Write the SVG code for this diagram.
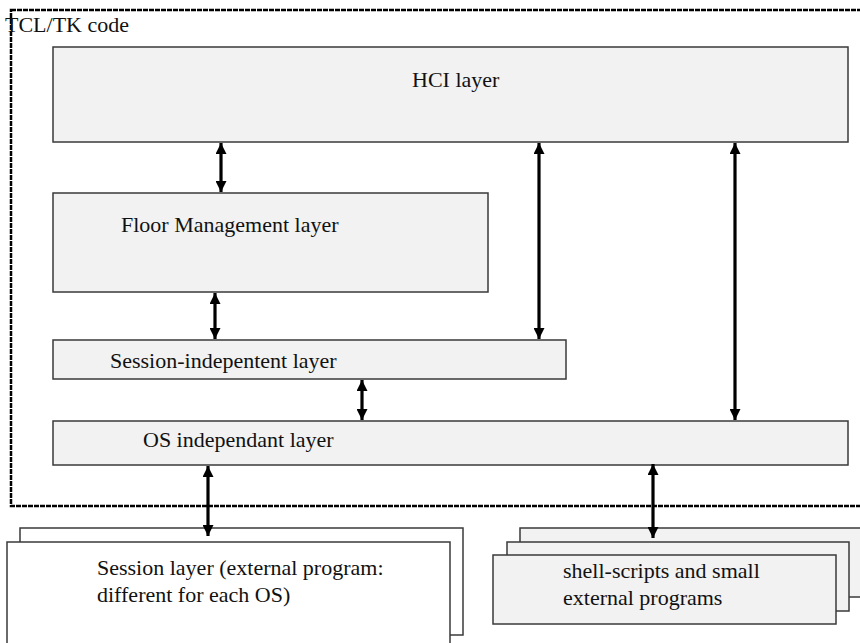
<svg xmlns="http://www.w3.org/2000/svg" width="860" height="643" viewBox="0 0 860 643">
  <style>
    .lbl { font-family: "Liberation Serif", "Times New Roman", serif; font-size: 22px; fill: #111; }
    .layer { fill: #f2f2f2; stroke: #3a3a3a; stroke-width: 1.5; }
    .ext { fill: #ffffff; stroke: #3a3a3a; stroke-width: 1.5; }
    .frame { fill: none; stroke: #000; stroke-width: 2.5; stroke-dasharray: 5 1; }
    .link { stroke: #000; stroke-width: 3.2; fill: none; marker-start: url(#tip); marker-end: url(#tip); }
  </style>
  <defs>
    <marker id="tip" viewBox="0 0 12 12" refX="12" refY="6" markerWidth="11" markerHeight="11" markerUnits="userSpaceOnUse" orient="auto-start-reverse">
      <path d="M0,0 L12,6 L0,12 z" fill="#000"/>
    </marker>
  </defs>

  <rect width="860" height="643" fill="#ffffff"/>

  <!-- TCL/TK code frame -->
  <g id="tcltk-frame">
    <rect class="frame" x="11" y="10" width="855" height="496"/>
    <text class="lbl" x="5" y="32">TCL/TK code</text>
  </g>

  <g id="hci-layer">
    <rect class="layer" x="53" y="47" width="795" height="95"/>
    <text class="lbl" x="412" y="87">HCI layer</text>
  </g>

  <g id="floor-management-layer">
    <rect class="layer" x="53" y="193" width="435" height="99"/>
    <text class="lbl" x="121" y="232">Floor Management layer</text>
  </g>

  <g id="session-independent-layer">
    <rect class="layer" x="53" y="340" width="513" height="39"/>
    <text class="lbl" x="110" y="368">Session-indepentent layer</text>
  </g>

  <g id="os-independent-layer">
    <rect class="layer" x="53" y="421" width="795" height="44"/>
    <text class="lbl" x="143" y="447">OS independant layer</text>
  </g>

  <g id="session-layer">
    <rect class="ext" x="20" y="528" width="443" height="107"/>
    <rect class="ext" x="7" y="542" width="443" height="110"/>
    <text class="lbl" x="97" y="575">Session layer (external program:</text>
    <text class="lbl" x="97" y="602">different for each OS)</text>
  </g>

  <g id="external-programs">
    <rect class="layer" x="520" y="528" width="350" height="69"/>
    <rect class="layer" x="507" y="542" width="342" height="69"/>
    <rect class="layer" x="493" y="555" width="343" height="69"/>
    <text class="lbl" x="563" y="578">shell-scripts and small</text>
    <text class="lbl" x="563" y="605">external programs</text>
  </g>

  <g id="connectors">
    <line class="link" x1="221" y1="143" x2="221" y2="192"/>
    <line class="link" x1="215" y1="293" x2="215" y2="339"/>
    <line class="link" x1="362" y1="380" x2="362" y2="420"/>
    <line class="link" x1="539" y1="143" x2="539" y2="339"/>
    <line class="link" x1="735" y1="143" x2="735" y2="420"/>
    <line class="link" x1="208" y1="466" x2="208" y2="536"/>
    <line class="link" x1="653" y1="464" x2="653" y2="538"/>
  </g>
</svg>
